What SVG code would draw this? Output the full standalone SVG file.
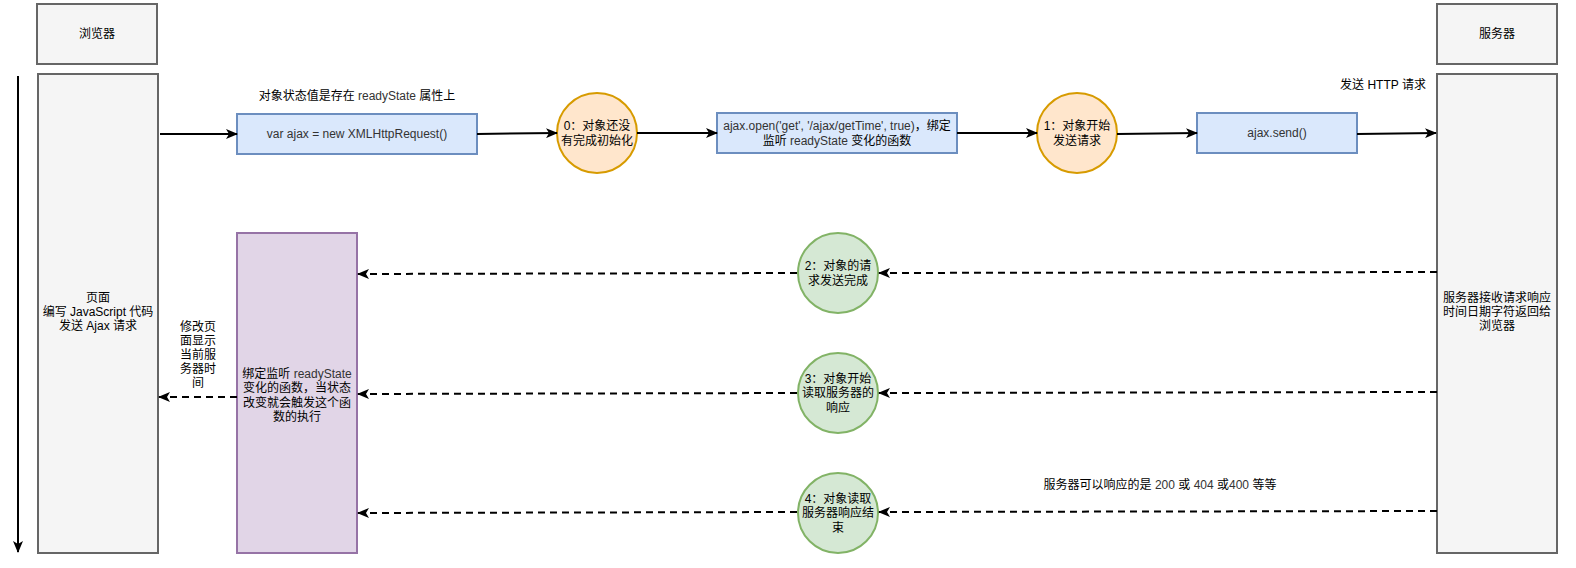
<svg xmlns="http://www.w3.org/2000/svg" width="1576" height="568" viewBox="0 0 1576 568">
<style>
text{font-family:"Liberation Sans","Noto Sans CJK SC",sans-serif;font-size:12px;fill:#000;text-anchor:middle;dominant-baseline:central}
.gray{fill:#f5f5f5;stroke:#666666;stroke-width:2}
.blue{fill:#dae8fc;stroke:#6c8ebf;stroke-width:2}
.orange{fill:#ffe6cc;stroke:#d79b00;stroke-width:2}
.green{fill:#d5e8d4;stroke:#82b366;stroke-width:2}
.purple{fill:#e1d5e7;stroke:#9673a6;stroke-width:2}
.solid{fill:none;stroke:#000;stroke-width:2;marker-end:url(#arr)}
.dash{fill:none;stroke:#000;stroke-width:2;stroke-dasharray:7 5;marker-end:url(#arr)}
.lt{fill:#333333}
</style>
<defs>
<marker id="arr" viewBox="0 0 12 10" refX="11" refY="5" markerWidth="12" markerHeight="10" markerUnits="userSpaceOnUse" orient="auto">
<path d="M0,0 L12,5 L0,10 L3,5 Z" fill="#000"/>
</marker>
</defs>
<g id="browser-header"><rect class="gray" x="37" y="4" width="120" height="60"/><text x="97" y="34">浏览器</text></g>
<g id="server-header"><rect class="gray" x="1437" y="4" width="120" height="60"/><text x="1497" y="34">服务器</text></g>
<g id="browser"><rect class="gray" x="38" y="74" width="120" height="479"/>
<text x="98" y="298">页面</text><text x="98" y="312">编写 JavaScript 代码</text><text x="98" y="326">发送 Ajax 请求</text></g>
<g id="server"><rect class="gray" x="1437" y="74" width="120" height="479"/>
<text x="1497" y="298">服务器接收请求响应</text><text x="1497" y="312">时间日期字符返回给</text><text x="1497" y="326">浏览器</text></g>
<g id="xhr"><rect class="blue" x="237" y="114" width="240" height="40"/><text class="lt" x="357" y="134">var ajax = new XMLHttpRequest()</text></g>
<g id="state0"><circle class="orange" cx="597" cy="133" r="40"/><text x="597" y="126">0：对象还没</text><text x="597" y="141">有完成初始化</text></g>
<g id="open"><rect class="blue" x="717" y="113" width="240" height="40"/><text x="837" y="126"><tspan class="lt">ajax.open('get', '/ajax/getTime', true)</tspan>，绑定</text><text x="837" y="141">监听 <tspan class="lt">readyState</tspan> 变化的函数</text></g>
<g id="state1"><circle class="orange" cx="1077" cy="133" r="40"/><text x="1077" y="126">1：对象开始</text><text x="1077" y="141">发送请求</text></g>
<g id="send"><rect class="blue" x="1197" y="113" width="160" height="40"/><text class="lt" x="1277" y="133">ajax.send()</text></g>
<g id="handler"><rect class="purple" x="237" y="233" width="120" height="320"/>
<text x="297" y="374">绑定监听 <tspan class="lt">readyState</tspan></text><text x="297" y="388">变化的函数，当状态</text><text x="297" y="403">改变就会触发这个函</text><text x="297" y="417">数的执行</text></g>
<g id="state2"><circle class="green" cx="838" cy="273" r="40"/><text x="838" y="266">2：对象的请</text><text x="838" y="281">求发送完成</text></g>
<g id="state3"><circle class="green" cx="838" cy="393" r="40"/><text x="838" y="379">3：对象开始</text><text x="838" y="393">读取服务器的</text><text x="838" y="408">响应</text></g>
<g id="state4"><circle class="green" cx="838" cy="513" r="40"/><text x="838" y="499">4：对象读取</text><text x="838" y="513">服务器响应结</text><text x="838" y="528">束</text></g>
<g id="labels">
<text x="357" y="96">对象状态值是存在 <tspan class="lt">readyState</tspan> 属性上</text>
<text x="1383" y="85">发送 HTTP 请求</text>
<text x="1160" y="485">服务器可以响应的是 <tspan class="lt">200</tspan> 或 <tspan class="lt">404</tspan> 或<tspan class="lt">400</tspan> 等等</text>
<text x="198" y="327">修改页</text><text x="198" y="341">面显示</text><text x="198" y="355">当前服</text><text x="198" y="369">务器时</text><text x="198" y="383">间</text>
</g>
<g id="connectors">
<path class="solid" d="M18,76 L18,552"/>
<path class="solid" d="M160,134 L237,134"/>
<path class="solid" d="M477,134 L557,133"/>
<path class="solid" d="M637,133 L717,133"/>
<path class="solid" d="M957,133 L1037,133"/>
<path class="solid" d="M1117,134 L1197,133"/>
<path class="solid" d="M1357,134 L1436,133"/>
<path class="dash" d="M1437,272 L879,273"/>
<path class="dash" d="M797,273 L358,274"/>
<path class="dash" d="M1437,392 L879,393"/>
<path class="dash" d="M797,393 L358,394"/>
<path class="dash" d="M1437,511 L879,512"/>
<path class="dash" d="M797,512 L358,513"/>
<path class="dash" d="M237,397 L159,397"/>
</g>
</svg>
